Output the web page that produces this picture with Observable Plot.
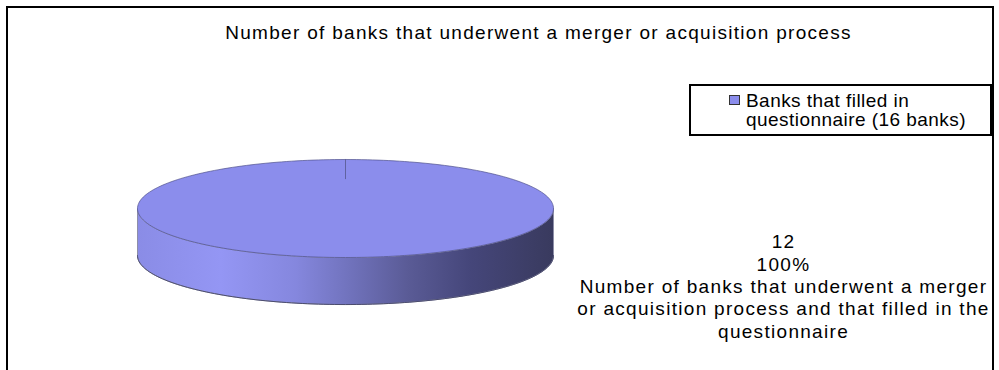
<!DOCTYPE html>
<html>
<head>
<meta charset="utf-8">
<script src="https://cdn.jsdelivr.net/npm/d3@7"></script>
<script src="https://cdn.jsdelivr.net/npm/@observablehq/plot@0.6"></script>
<style>
  html, body { margin: 0; padding: 0; background: #fff; overflow: hidden; }
  #wrap { position: relative; width: 999px; height: 370px; font-family: "Liberation Sans", Arial, sans-serif; overflow: hidden; }
  #wrap svg { position: absolute; left: 0; top: 0; }
  #wrap svg text { letter-spacing: 1.3px; }
  #frame { position: absolute; left: 6px; top: 6px; width: 984px; height: 390px; border: 2px solid #000; }
  #legend { position: absolute; left: 689px; top: 84px; width: 299px; height: 48px; border: 2px solid #000; background: #fff; }
  #legend .sw { position: absolute; left: 38px; top: 9px; width: 9px; height: 8px; border: 1.5px solid #333; }
  #legend .tx { position: absolute; left: 55px; top: 5px; width: 236px; font-size: 19px; line-height: 19.4px; letter-spacing: 0.45px; color: #000; }
</style>
</head>
<body>
<div id="wrap"><div id="frame"></div></div>
<script>
// ---- data ----
const title = "Number of banks that underwent a merger or acquisition process";
const categories = ["Number of banks that underwent a merger or acquisition process and that filled in the questionnaire"];
const values = [12];
const legendLabels = ["Banks that filled in questionnaire (16 banks)"];
const colors = ["#8b8dec"];

// ---- geometry derived from data ----
const total = d3.sum(values);
const arcs = d3.pie().sort(null).startAngle(0).endAngle(2 * Math.PI)(values);
const DEPTH = 0.96;   // thickness of the disc in radius units
const STEPS = 240;
const pt = a => ({ x: Math.sin(a), y: -Math.cos(a) });

const topPts = [], sidePts = [], edgePts = [], rimPts = [];
arcs.forEach((a, i) => {
  const n = Math.max(2, Math.ceil(STEPS * (a.endAngle - a.startAngle) / (2 * Math.PI)));
  topPts.push({ k: i, x: 0, y: 0 });
  for (let j = 0; j <= n; j++) {
    const t = a.startAngle + (a.endAngle - a.startAngle) * j / n;
    topPts.push({ ...pt(t), k: i });
    rimPts.push({ ...pt(t), k: i });
  }
  // visible front side: angles between PI/2 and 3PI/2
  const lo = Math.max(a.startAngle, Math.PI / 2), hi = Math.min(a.endAngle, 3 * Math.PI / 2);
  if (hi > lo) {
    const m = Math.max(2, Math.ceil(STEPS * (hi - lo) / (2 * Math.PI)));
    const up = [], dn = [];
    for (let j = 0; j <= m; j++) {
      const t = lo + (hi - lo) * j / m;
      const p = pt(t);
      up.push({ x: p.x, y: p.y, k: i });
      dn.push({ x: p.x, y: p.y + DEPTH, k: i });
    }
    sidePts.push(...up, ...dn.slice().reverse(), up[0]);
    edgePts.push(...dn);
  }
});
const radial = arcs.map((a, i) => ({ x1: pt(a.startAngle).x, y1: pt(a.startAngle).y, x2: pt(a.startAngle).x * 0.6, y2: pt(a.startAngle).y * 0.6, k: i }));

// ---- label wrapping ----
const LABEL_FS = 19, LABEL_LS = 1.3, LABEL_MAX = 430;
const ctx = document.createElement("canvas").getContext("2d");
ctx.font = `${LABEL_FS}px "Liberation Sans"`;
const w = s => ctx.measureText(s).width + s.length * LABEL_LS;
function wrap(s) {
  const words = s.split(" "), lines = [];
  let cur = "";
  for (const wd of words) {
    const tryS = cur ? cur + " " + wd : wd;
    if (w(tryS) > LABEL_MAX && cur) { lines.push(cur); cur = wd; } else cur = tryS;
  }
  if (cur) lines.push(cur);
  return lines.join("\n");
}
const labels = arcs.map((a, i) => `${values[i]}\n${Math.round(values[i] / total * 100)}%\n${wrap(categories[i])}`);

const svg = Plot.plot({
  width: 999,
  height: 370,
  margin: 0,
  style: { fontFamily: '"Liberation Sans", Arial, sans-serif', background: "transparent", overflow: "visible" },
  x: { domain: [-1, 1], range: [137, 553], axis: null },
  y: { domain: [-1, 1], range: [159, 257], axis: null },
  marks: [
    Plot.line(sidePts, { x: "x", y: "y", z: "k", fill: "url(#sideGrad)", stroke: "#8e8fa8", strokeWidth: 1, curve: "linear" }),
    Plot.line(edgePts, { x: "x", y: "y", z: "k", stroke: "#3a3b60", strokeWidth: 0.8 }),
    Plot.line(topPts, { x: "x", y: "y", z: "k", fill: (d) => colors[d.k], stroke: "none" }),
    Plot.line(rimPts, { x: "x", y: "y", z: "k", stroke: "#4d4f88", strokeWidth: 0.8, strokeOpacity: 0.85 }),
    Plot.link(radial, { x1: "x1", y1: "y1", x2: "x2", y2: "y2", stroke: "#6062a0", strokeWidth: 1 }),
    Plot.text([title], { text: d => d, frameAnchor: "top-left", dx: 538, dy: 25, textAnchor: "middle", lineAnchor: "top", fontSize: 19, fill: "#000" }),
    Plot.text(labels, { text: d => d, frameAnchor: "top-left", dx: 783, dy: 232, textAnchor: "middle", lineAnchor: "top", fontSize: LABEL_FS, lineHeight: 1.174, fill: "#000" })
  ]
});

// gradient for the side of the disc
const defs = d3.select(svg).insert("defs", ":first-child");
const lg = defs.append("linearGradient").attr("id", "sideGrad").attr("x1", 0).attr("x2", 1).attr("y1", 0).attr("y2", 0);
[[0, "#8a8ce6"], [0.2, "#9496f4"], [0.38, "#8587de"], [0.5, "#7274bf"], [0.65, "#5a5b96"], [0.8, "#45467a"], [1, "#393a5e"]]
  .forEach(([o, c]) => lg.append("stop").attr("offset", o).attr("stop-color", c));

const wrapEl = document.getElementById("wrap");
wrapEl.insertBefore(svg, wrapEl.firstChild);

// legend
const legend = d3.select(wrapEl).append("div").attr("id", "legend");
legendLabels.forEach((l, i) => {
  legend.append("div").attr("class", "sw").style("background", colors[i]);
  legend.append("div").attr("class", "tx").text(l);
});
</script>
</body>
</html>
